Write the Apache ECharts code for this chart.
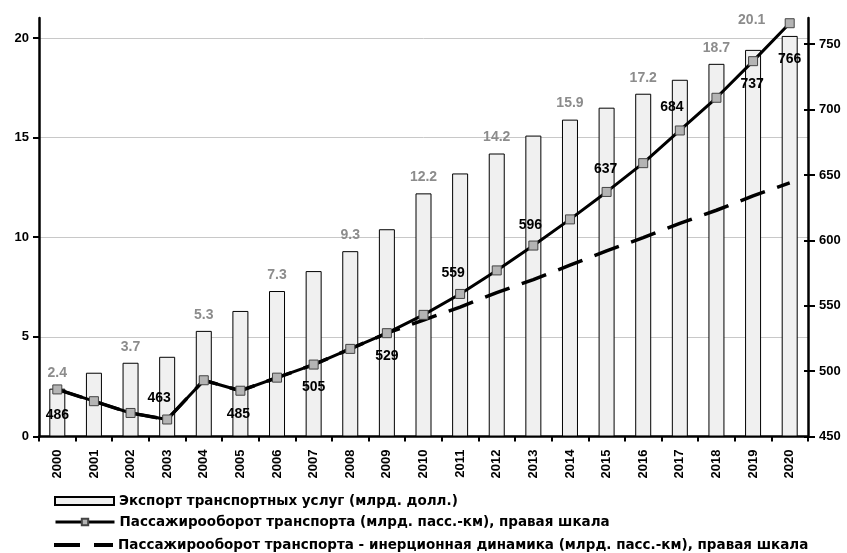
<!DOCTYPE html>
<html>
<head>
<meta charset="utf-8">
<script src="https://cdn.jsdelivr.net/npm/echarts@6/dist/echarts.min.js"></script>
<style>
  html, body { margin: 0; padding: 0; background: #fff; }
  #chart { width: 847px; height: 553px; }
</style>
</head>
<body>
<div id="chart"></div>
<script>
// годы
const years = ['2000', '2001', '2002', '2003', '2004', '2005', '2006', '2007', '2008', '2009', '2010',
  '2011', '2012', '2013', '2014', '2015', '2016', '2017', '2018', '2019', '2020'];
// экспорт транспортных услуг, млрд долл.
const exportValues = [2.4, 3.2, 3.7, 4.0, 5.3, 6.3, 7.3, 8.3, 9.3, 10.4, 12.2,
  13.2, 14.2, 15.1, 15.9, 16.5, 17.2, 17.9, 18.7, 19.4, 20.1];
// пассажирооборот, млрд пасс.-км
const passValues = [486, 477, 468, 463, 493, 485, 495, 505, 517, 529, 543,
  559, 577, 596, 616, 637, 659, 684, 709, 737, 766];
// инерционная динамика
const inertValues = [486, 477, 468, 463, 493, 485, 495, 505, 517, 529, 539,
  549, 560, 570, 581, 592, 602, 613, 623, 634, 644];
const leftTicks = [0, 5, 10, 15, 20];
const rightTicks = [450, 500, 550, 600, 650, 700, 750];

const names = [
  'Экспорт транспортных услуг (млрд. долл.)',
  'Пассажирооборот транспорта (млрд. пасс.-км), правая шкала',
  'Пассажирооборот транспорта - инерционная динамика (млрд. пасс.-км), правая шкала'
];

// подписи столбцов только для чётных лет (последнюю сдвигаем влево от маркера)
const barData = exportValues.map((v, i) => ({
  value: v,
  label: { show: i % 2 === 0, offset: i === 20 ? [-38, 0] : [0, 0] }
}));

// смещения подписей линии (какие точки подписаны и где)
const lineLabelOffsets = {
  0: [0, 26], 3: [-8, -21], 5: [-2, 23], 7: [0, 23], 9: [0, 23],
  11: [-7, -21], 13: [-3, -20], 15: [-1, -23], 17: [-8, -23], 19: [-1, 23], 20: [0, 36]
};
const lineData = passValues.map((v, i) => {
  const off = lineLabelOffsets[i];
  return {
    value: v,
    label: off ? { show: true, position: 'inside', offset: off } : { show: false }
  };
});

const chart = echarts.init(document.getElementById('chart'));
const axisFont = { fontFamily: 'Liberation Sans, Arial', fontWeight: 'bold', fontSize: 13, color: '#000' };
const legendText = { fontFamily: 'DejaVu Sans', fontWeight: 'bold', fontSize: 13.5, color: '#000' };

// каждая строка легенды — отдельный компонент, чтобы не переносилась в колонку
function legendRow(top, item, w, h) {
  return {
    orient: 'vertical',
    left: 49,
    top: top,
    itemWidth: w,
    itemHeight: h,
    itemGap: 0,
    textStyle: legendText,
    data: [item]
  };
}

const option = {
  animation: false,
  backgroundColor: '#fff',
  textStyle: { fontFamily: 'Liberation Sans, Arial' },
  grid: { left: 39, right: 39, top: 18, bottom: 116.5, containLabel: false },
  legend: [
    legendRow(489, { name: names[0], icon: 'rect' }, 59, 8),
    legendRow(510, { name: names[1], lineStyle: { width: 3 } }, 59, 8),
    legendRow(533, { name: names[2], icon: 'path://M0,0H26V4H0Z M40,0H59V4H40Z' }, 59, 4)
  ],
  xAxis: {
    type: 'category',
    data: years,
    boundaryGap: true,
    axisLine: { lineStyle: { color: '#000', width: 2.5 } },
    axisTick: { show: true, length: 5, lineStyle: { color: '#000', width: 2 } },
    axisLabel: Object.assign({ rotate: 90, margin: 13 }, axisFont),
    splitLine: { show: false }
  },
  yAxis: [
    {
      type: 'value',
      min: 0,
      max: 21,
      interval: 5,
      position: 'left',
      axisLine: { show: true, lineStyle: { color: '#000', width: 2.5 } },
      axisTick: { show: true, length: 6, lineStyle: { color: '#000', width: 2 }, customValues: leftTicks },
      axisLabel: Object.assign({ margin: 10, customValues: leftTicks }, axisFont),
      splitLine: { show: true, lineStyle: { color: '#c8c8c8', width: 1 } }
    },
    {
      type: 'value',
      min: 450,
      max: 770,
      interval: 50,
      position: 'right',
      axisLine: { show: true, lineStyle: { color: '#000', width: 2.5 } },
      axisTick: { show: true, length: 7, lineStyle: { color: '#000', width: 2 }, customValues: rightTicks },
      axisLabel: Object.assign({ margin: 11, customValues: rightTicks }, axisFont),
      splitLine: { show: false }
    },
    {
      // та же правая шкала: внутренняя часть засечек, пересекающих ось
      type: 'value',
      min: 450,
      max: 770,
      interval: 50,
      position: 'right',
      axisLine: { show: false },
      axisTick: { show: true, inside: true, length: 4, lineStyle: { color: '#000', width: 2 }, customValues: rightTicks },
      axisLabel: { show: false },
      splitLine: { show: false }
    }
  ],
  series: [
    {
      name: names[0],
      type: 'bar',
      yAxisIndex: 0,
      data: barData,
      barWidth: 16,
      itemStyle: { color: '#f0f0f0', borderColor: '#000', borderWidth: 1 },
      label: {
        position: 'top',
        distance: 9,
        color: '#8c8c8c',
        fontWeight: 'bold',
        fontSize: 14,
        fontFamily: 'Liberation Sans, Arial'
      },
      z: 1
    },
    {
      name: names[2],
      type: 'line',
      yAxisIndex: 1,
      data: inertValues,
      showSymbol: false,
      symbol: 'none',
      lineStyle: { color: '#000', width: 3.5, type: [26, 13] },
      itemStyle: { color: '#000' },
      z: 2
    },
    {
      name: names[1],
      type: 'line',
      yAxisIndex: 1,
      data: lineData,
      symbol: 'rect',
      symbolSize: 9,
      lineStyle: { color: '#000', width: 3 },
      itemStyle: { color: '#b4b4b4', borderColor: '#444', borderWidth: 1 },
      label: {
        color: '#000',
        fontWeight: 'bold',
        fontSize: 14,
        fontFamily: 'Liberation Sans, Arial'
      },
      z: 3
    }
  ]
};

chart.setOption(option);
</script>
</body>
</html>
